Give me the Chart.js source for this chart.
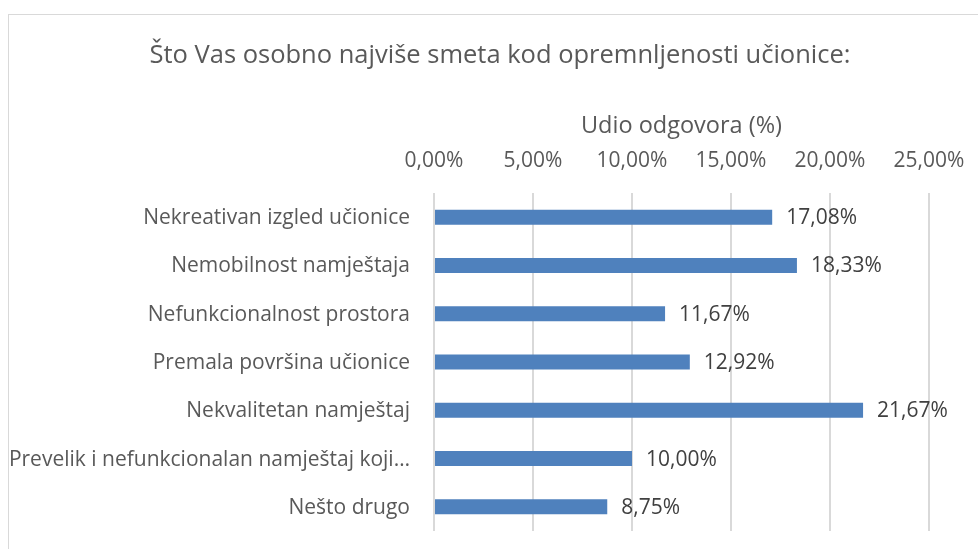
<!DOCTYPE html>
<html>
<head>
<meta charset="utf-8">
<style>
  html, body { margin: 0; padding: 0; background: #fff; overflow: hidden; }
  #wrap { position: relative; width: 978px; height: 549px; }
  #frame { position: absolute; left: 8px; top: 14px; width: 1000px; height: 600px; border: 1px solid #d9d9d9; box-sizing: border-box; }
  #chart { position: absolute; left: 0; top: 0; }
</style>
</head>
<body>
<div id="wrap">
  <div id="frame"></div>
  <canvas id="chart" width="978" height="549"></canvas>
</div>

<script src="https://cdn.jsdelivr.net/npm/chart.js@4/dist/chart.umd.min.js"></script>
<script>
// odgovori na anketu - udio u postocima
const categories = [
  'Nekreativan izgled učionice',
  'Nemobilnost namještaja',
  'Nefunkcionalnost prostora',
  'Premala površina učionice',
  'Nekvalitetan namještaj',
  'Prevelik i nefunkcionalan namještaj koji…',
  'Nešto drugo'
];
const shares = [17.08, 18.33, 11.67, 12.92, 21.67, 10.00, 8.75];
const axisMin = 0;
const axisMax = 25;
const axisStep = 5;

const FONT = "'Open Sans', sans-serif";

function pct(v) {
  return v.toFixed(2).replace('.', ',') + '%';
}

// ispis vrijednosti desno od svake trake
const valueLabels = {
  id: 'valueLabels',
  afterDatasetsDraw(chart) {
    const ctx = chart.ctx;
    const meta = chart.getDatasetMeta(0);
    ctx.save();
    ctx.font = '21px ' + FONT;
    ctx.fillStyle = '#404040';
    ctx.textAlign = 'left';
    ctx.textBaseline = 'middle';
    meta.data.forEach((bar, i) => {
      ctx.fillText(pct(chart.data.datasets[0].data[i]), bar.x + 14, bar.y + 1);
    });
    ctx.restore();
  }
};

// nazivi kategorija lijevo od osi (crtaju se bez rezanja na rub osi)
const categoryLabels = {
  id: 'categoryLabels',
  afterDraw(chart) {
    const ctx = chart.ctx;
    const y = chart.scales.y;
    ctx.save();
    ctx.font = '21px ' + FONT;
    ctx.fillStyle = '#595959';
    ctx.textAlign = 'right';
    ctx.textBaseline = 'middle';
    chart.data.labels.forEach((lab, i) => {
      ctx.fillText(lab, y.right - 24, y.getPixelForTick(i) + 1);
    });
    ctx.restore();
  }
};

const chart = new Chart(document.getElementById('chart'), {
  type: 'bar',
  data: {
    labels: categories,
    datasets: [{
      data: shares,
      backgroundColor: '#4f81bd',
      borderWidth: 0,
      categoryPercentage: 1,
      barPercentage: 0.31
    }]
  },
  options: {
    indexAxis: 'y',
    responsive: false,
    animation: false,
    layout: { padding: { left: 71, right: 49, top: 26, bottom: 18 } },
    plugins: {
      legend: { display: false },
      tooltip: { enabled: false },
      title: {
        display: true,
        text: 'Što Vas osobno najviše smeta kod opremnljenosti učionice:',
        color: '#595959',
        font: { family: FONT, size: 25.5, weight: 'normal' },
        padding: { top: 14, bottom: 42 }
      }
    },
    scales: {
      x: {
        position: 'top',
        min: axisMin,
        max: axisMax,
        // rubne oznake stanu u okvir, pa bočni razmak nije potreban
        afterFit(scale) { scale.paddingLeft = 0; scale.paddingRight = 0; },
        ticks: {
          stepSize: axisStep,
          color: '#595959',
          font: { family: FONT, size: 21 },
          padding: 19,
          callback: v => pct(v)
        },
        grid: { color: '#d9d9d9', lineWidth: 2, drawTicks: false },
        border: { display: false },
        title: {
          display: true,
          text: 'Udio odgovora (%)',
          color: '#595959',
          font: { family: FONT, size: 23.5 },
          padding: { top: 0, bottom: -11 }
        }
      },
      y: {
        afterFit(scale) { scale.width = 363; },
        ticks: { display: false },
        grid: { display: false },
        border: { display: false }
      }
    }
  },
  plugins: [valueLabels, categoryLabels]
});
</script>
</body>
</html>
